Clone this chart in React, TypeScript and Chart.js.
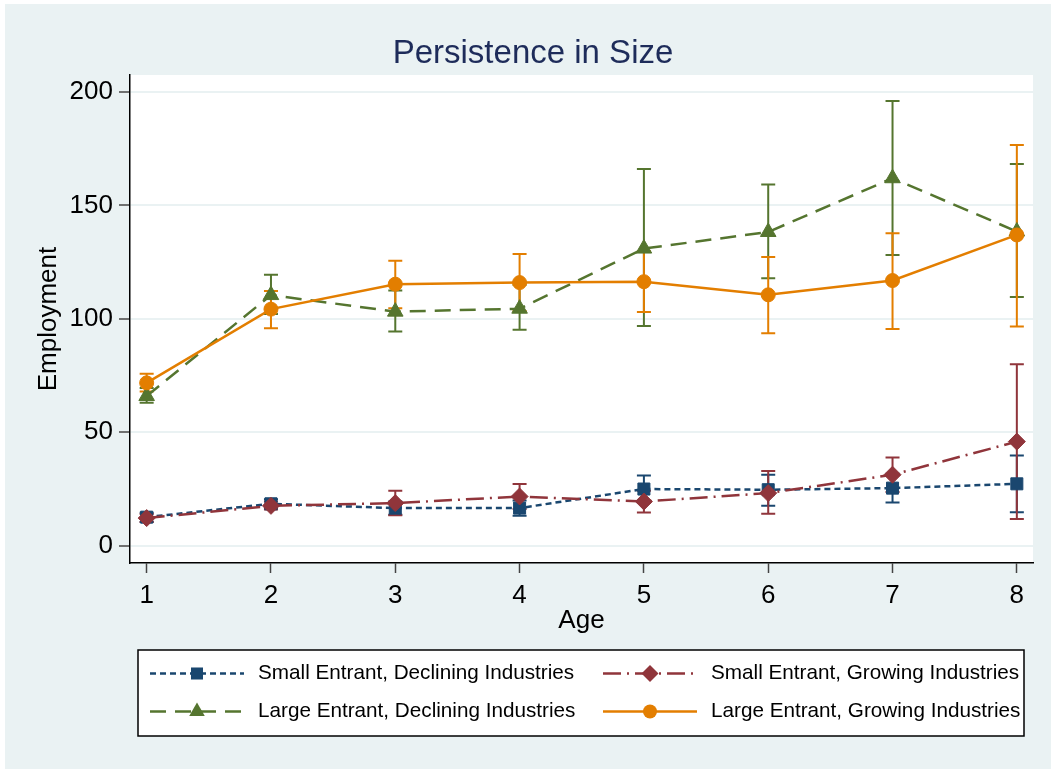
import React, { useEffect, useRef } from "react";
import { Chart, registerables } from "chart.js";

Chart.register(...registerables);

const FONT = "'Liberation Sans', Arial, sans-serif";

const ages = [1, 2, 3, 4, 5, 6, 7, 8];
const xTickValues = [1, 2, 3, 4, 5, 6, 7, 8];
const yTickValues = [0, 50, 100, 150, 200];

const seriesLabels = [
  "Small Entrant, Declining Industries",
  "Small Entrant, Growing Industries",
  "Large Entrant, Declining Industries",
  "Large Entrant, Growing Industries",
];

const smallDecl = [12.6, 18.5, 16.6, 16.6, 25.0, 24.7, 25.4, 27.3];
const smallDeclLo = [10.5, 16.5, 13.7, 13.2, 19.0, 17.6, 19.1, 14.8];
const smallDeclHi = [14.5, 20.5, 19.5, 20.0, 31.0, 31.3, 31.7, 39.8];

const smallGrow = [12.2, 17.6, 18.8, 21.7, 19.5, 23.2, 31.3, 45.9];
const smallGrowLo = [10.5, 16.0, 13.5, 16.2, 14.7, 14.1, 23.7, 11.8];
const smallGrowHi = [14.0, 19.5, 24.2, 27.2, 24.3, 33.0, 38.9, 80.0];

const largeDecl = [66.0, 110.5, 103.2, 104.5, 131.0, 138.3, 162.0, 138.5];
const largeDeclLo = [63.0, 102.2, 94.4, 95.2, 96.9, 117.9, 128.2, 109.7];
const largeDeclHi = [69.5, 119.4, 112.5, 115.0, 166.1, 159.2, 196.0, 168.3];

const largeGrow = [71.8, 104.3, 115.3, 116.0, 116.4, 110.6, 116.9, 137.0];
const largeGrowLo = [68.0, 95.9, 104.7, 103.5, 103.0, 93.7, 95.5, 96.6];
const largeGrowHi = [75.8, 112.3, 125.6, 128.6, 129.8, 127.3, 137.7, 176.7];

const colors = ["#1a476f", "#90353b", "#55752f", "#e37e00"];
const dashes = [[6, 4], [18, 6, 2, 6], [16, 9], []];
const pointStyles = ["rect", "rectRot", "triangle", "circle"];
const pointRadii = [8.5, 8.5, 9, 7];

const values = [smallDecl, smallGrow, largeDecl, largeGrow];
const lows = [smallDeclLo, smallGrowLo, largeDeclLo, largeGrowLo];
const highs = [smallDeclHi, smallGrowHi, largeDeclHi, largeGrowHi];

function drawMarker(ctx: CanvasRenderingContext2D, style: string, x: number, y: number, r: number, color: string) {
  ctx.save();
  ctx.fillStyle = color;
  ctx.beginPath();
  if (style === "rect") {
    const s = r * Math.SQRT1_2;
    ctx.rect(x - s, y - s, 2 * s, 2 * s);
  } else if (style === "rectRot") {
    ctx.moveTo(x, y - r);
    ctx.lineTo(x + r, y);
    ctx.lineTo(x, y + r);
    ctx.lineTo(x - r, y);
    ctx.closePath();
  } else if (style === "triangle") {
    ctx.moveTo(x, y - r);
    ctx.lineTo(x + r * Math.cos(Math.PI / 6), y + r / 2);
    ctx.lineTo(x - r * Math.cos(Math.PI / 6), y + r / 2);
    ctx.closePath();
  } else {
    ctx.arc(x, y, r, 0, Math.PI * 2);
  }
  ctx.fill();
  ctx.restore();
}

const backgroundPlugin = {
  id: "bgPlugin",
  beforeDraw(chart: any) {
    const { ctx, width, height, chartArea } = chart;
    ctx.save();
    ctx.fillStyle = "#ffffff";
    ctx.fillRect(0, 0, width, height);
    ctx.fillStyle = "#eaf2f3";
    ctx.fillRect(5, 4, width - 5, height - 4);
    ctx.fillStyle = "#ffffff";
    ctx.fillRect(chartArea.left, chartArea.top, chartArea.right - chartArea.left, chartArea.bottom - chartArea.top);
    ctx.restore();
  },
};

const errorBarPlugin = {
  id: "errorBars",
  beforeDatasetsDraw(chart: any) {
    const { ctx } = chart;
    const xs = chart.scales.x;
    const ys = chart.scales.y;
    ctx.save();
    ctx.lineWidth = 2;
    ctx.setLineDash([]);
    for (let i = 0; i < values.length; i++) {
      ctx.strokeStyle = colors[i];
      for (let j = 0; j < ages.length; j++) {
        const x = xs.getPixelForValue(ages[j]);
        const y1 = ys.getPixelForValue(lows[i][j]);
        const y2 = ys.getPixelForValue(highs[i][j]);
        ctx.beginPath();
        ctx.moveTo(x, y1);
        ctx.lineTo(x, y2);
        ctx.moveTo(x - 7, y1);
        ctx.lineTo(x + 7, y1);
        ctx.moveTo(x - 7, y2);
        ctx.lineTo(x + 7, y2);
        ctx.stroke();
      }
    }
    ctx.restore();
  },
};

const legendPlugin = {
  id: "customLegend",
  afterDraw(chart: any) {
    const { ctx } = chart;
    ctx.save();
    const bx = 138, by = 650, bw = 886, bh = 86;
    ctx.fillStyle = "#ffffff";
    ctx.fillRect(bx, by, bw, bh);
    ctx.strokeStyle = "#000000";
    ctx.lineWidth = 1.5;
    ctx.strokeRect(bx, by, bw, bh);
    const colX = [150, 603];
    const rowY = [673.5, 711.5];
    for (let i = 0; i < seriesLabels.length; i++) {
      const cx = colX[i % 2];
      const cy = rowY[Math.floor(i / 2)];
      ctx.strokeStyle = colors[i];
      ctx.lineWidth = 2.5;
      ctx.setLineDash(dashes[i]);
      ctx.beginPath();
      ctx.moveTo(cx, cy);
      ctx.lineTo(cx + 94, cy);
      ctx.stroke();
      ctx.setLineDash([]);
      drawMarker(ctx, pointStyles[i], cx + 47, cy, pointRadii[i], colors[i]);
      ctx.fillStyle = "#000000";
      ctx.font = `20.7px ${FONT}`;
      ctx.textBaseline = "middle";
      ctx.textAlign = "left";
      ctx.fillText(seriesLabels[i], cx + 108, cy);
    }
    ctx.restore();
  },
};

export default function App() {
  const ref = useRef<HTMLCanvasElement>(null);
  useEffect(() => {
    const canvas = ref.current;
    if (!canvas) return;
    const datasets = values.map((vals, i) => ({
      label: seriesLabels[i],
      data: ages.map((a, j) => ({ x: a, y: vals[j] })),
      borderColor: colors[i],
      backgroundColor: colors[i],
      borderWidth: 2.5,
      borderDash: dashes[i],
      pointStyle: pointStyles[i],
      pointRadius: pointRadii[i],
      pointBackgroundColor: colors[i],
      pointBorderColor: colors[i],
      pointBorderWidth: 1,
      tension: 0,
      fill: false,
      order: values.length - 1 - i,
    }));
    const chart = new Chart(canvas, {
      type: "line",
      data: { datasets },
      plugins: [backgroundPlugin, errorBarPlugin, legendPlugin],
      options: {
        responsive: false,
        animation: false,
        devicePixelRatio: 1,
        layout: { padding: { left: 33, right: 18, top: 0, bottom: 131 } },
        plugins: {
          legend: { display: false },
          tooltip: { enabled: false },
          title: {
            display: true,
            text: "Persistence in Size",
            color: "#1e2c5a",
            font: { size: 33, family: FONT, weight: "normal" },
            padding: { top: 34, bottom: 1.4 },
          },
        },
        scales: {
          x: {
            type: "linear",
            min: 0.866,
            max: 8.13,
            afterBuildTicks: (s: any) => {
              s.ticks = xTickValues.map((v) => ({ value: v }));
            },
            afterFit: (s: any) => {
              s.height = 75;
            },
            grid: {
              display: true,
              drawOnChartArea: false,
              drawTicks: true,
              tickLength: 10,
              tickColor: "#444444",
              tickWidth: 1.5,
            },
            border: { display: true, color: "#000000", width: 1.5 },
            ticks: {
              font: { size: 26, family: FONT },
              color: "#000000",
              padding: 7,
              maxRotation: 0,
              autoSkip: false,
            },
            title: {
              display: true,
              text: "Age",
              color: "#000000",
              font: { size: 26, family: FONT },
              padding: { top: 2, bottom: 2 },
            },
          },
          y: {
            type: "linear",
            min: -7.6,
            max: 207.5,
            afterBuildTicks: (s: any) => {
              s.ticks = yTickValues.map((v) => ({ value: v }));
            },
            afterFit: (s: any) => {
              s.width = 97;
            },
            grid: {
              color: "#eaf2f3",
              lineWidth: 2,
              tickLength: 11,
              tickColor: "#444444",
              tickWidth: 1.5,
            },
            border: { display: true, color: "#000000", width: 1.5 },
            ticks: {
              font: { size: 26, family: FONT },
              color: "#000000",
              padding: 6,
            },
            title: {
              display: true,
              text: "Employment",
              color: "#000000",
              font: { size: 26, family: FONT },
              padding: { top: 0, bottom: 0 },
            },
          },
        },
      } as any,
    });
    return () => chart.destroy();
  }, []);
  return (
    <div style={{ position: "absolute", left: 0, top: 0, width: 1051, height: 769 }}>
      <canvas ref={ref} width={1051} height={769} style={{ display: "block" }} />
    </div>
  );
}
